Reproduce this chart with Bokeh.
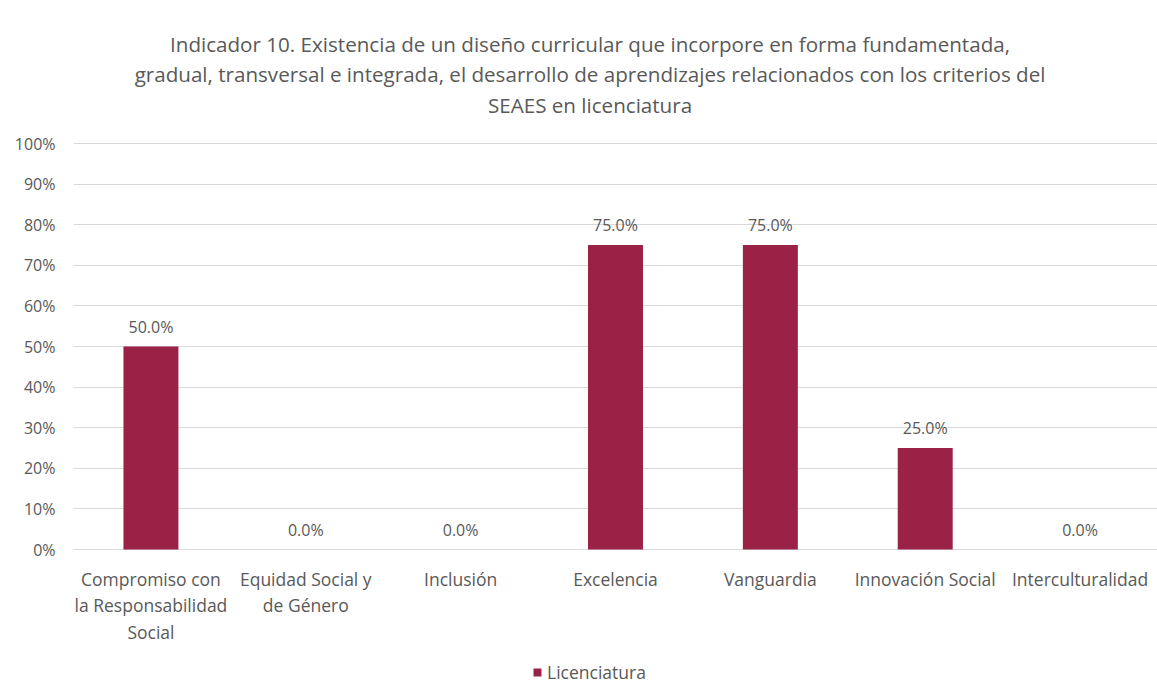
from bokeh.plotting import figure
from bokeh.models import ColumnDataSource, LabelSet, Label, Legend, LegendItem, NumeralTickFormatter, FixedTicker
from bokeh.core.properties import value
from bokeh.embed import file_html
from bokeh.resources import INLINE

categories = ["Compromiso con la Responsabilidad Social", "Equidad Social y de Género", "Inclusión",
              "Excelencia", "Vanguardia", "Innovación Social", "Interculturalidad"]
tick_labels = ["Compromiso con\nla Responsabilidad\nSocial", "Equidad Social y\nde Género", "Inclusión",
               "Excelencia", "Vanguardia", "Innovación Social", "Interculturalidad"]
values = [0.50, 0.0, 0.0, 0.75, 0.75, 0.25, 0.0]
series_name = "Licenciatura"
title_lines = ["Indicador 10. Existencia de un diseño curricular que incorpore en forma fundamentada,",
               "gradual, transversal e integrada, el desarrollo de aprendizajes relacionados con los criterios del",
               "SEAES en licenciatura"]

FONT = "Open Sans"
GRAY = "#595959"
BAR = "#9B2247"

W, H = 1157, 695
LEFT = 73
PLOT_TOP, PLOT_BOTTOM = 143, 549          # pixel rows of 100% and 0%
PX_PER_UNIT = PLOT_BOTTOM - PLOT_TOP
y_end = 1 + PLOT_TOP / PX_PER_UNIT
y_start = -(H - PLOT_BOTTOM) / PX_PER_UNIT

src = ColumnDataSource(dict(cat=categories, val=values, lab=[f"{v*100:.1f}%" for v in values]))

p = figure(x_range=categories, y_range=(y_start, y_end), width=W, height=H,
           output_backend="svg", toolbar_location=None, title_location=None,
           min_border_left=LEFT, min_border_right=0, min_border_top=0, min_border_bottom=0)
p.outline_line_color = None
p.background_fill_color = "white"
p.border_fill_color = "white"

r = p.vbar(x="cat", top="val", width=0.355, source=src, fill_color=BAR, line_color=None)

p.xgrid.grid_line_color = None
p.ygrid.grid_line_color = "#D9D9D9"
p.ygrid.grid_line_width = 1
p.yaxis.ticker = FixedTicker(ticks=[i / 10 for i in range(11)])
p.yaxis.formatter = NumeralTickFormatter(format="0%")
p.yaxis.axis_line_color = None
p.yaxis.major_tick_line_color = None
p.yaxis.minor_tick_line_color = None
p.yaxis.major_label_text_font = FONT
p.yaxis.major_label_text_font_size = "16px"
p.yaxis.major_label_text_color = GRAY
p.yaxis.major_label_standoff = 12
p.xaxis.visible = False

labels = LabelSet(x="cat", y="val", text="lab", source=src, text_align="center",
                  text_baseline="middle", y_offset=20, text_font=value(FONT),
                  text_font_size="16px", text_color=GRAY)
p.add_layout(labels)

# category labels (wrapped, one LabelSet per line)
split = [t.split("\n") for t in tick_labels]
nlines = max(len(s) for s in split)
for k in range(nlines):
    cats = [c for c, s in zip(categories, split) if len(s) > k]
    txts = [s[k] for s in split if len(s) > k]
    lsrc = ColumnDataSource(dict(cat=cats, y=[0.0] * len(cats), t=txts))
    p.add_layout(LabelSet(x="cat", y="y", text="t", source=lsrc, text_align="center",
                          text_baseline="middle", y_offset=-(29 + 26.5 * k), text_font=value(FONT),
                          text_font_size="17.5px", text_color=GRAY))

title_x = (590 - LEFT) / 155
for i, t in enumerate(title_lines):
    py = 43 + 30.5 * i
    p.add_layout(Label(x=title_x, y=(PLOT_BOTTOM - py) / PX_PER_UNIT, text=t,
                       text_align="center", text_baseline="middle", text_font=FONT,
                       text_font_size="20.6px", text_color=GRAY))

legend = Legend(items=[LegendItem(label=series_name, renderers=[r])], location=(459, 11),
                orientation="horizontal", label_text_font=FONT, label_text_font_size="17.5px",
                label_text_color=GRAY, glyph_width=10, glyph_height=10, border_line_color=None,
                background_fill_alpha=0)
p.add_layout(legend, "center")

open("out.html", "w").write(file_html(p, INLINE))
